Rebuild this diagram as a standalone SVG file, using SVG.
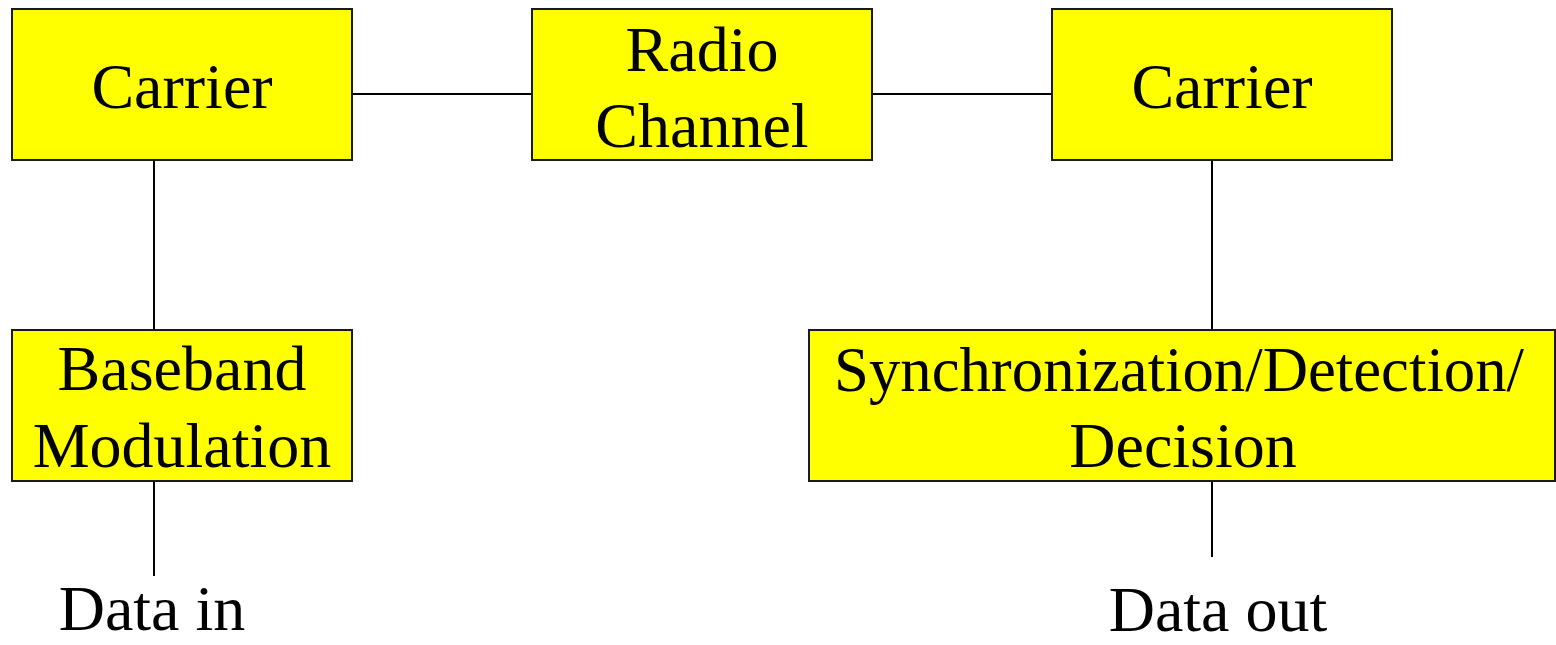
<svg xmlns="http://www.w3.org/2000/svg" width="1556" height="645" viewBox="0 0 1556 645">
  <style>
    .box { fill: #ffff00; stroke: #1a1a1a; stroke-width: 2; }
    .wire { stroke: #000; stroke-width: 2; fill: none; }
    text { font-family: "Liberation Serif", "Times New Roman", serif; font-size: 64px; fill: #000; text-anchor: middle; }
  </style>
  <rect width="1556" height="645" fill="#fff"/>

  <!-- connectors -->
  <g id="connectors">
    <line class="wire" x1="352" y1="94" x2="532" y2="94"/>
    <line class="wire" x1="872" y1="94" x2="1052" y2="94"/>
    <line class="wire" x1="154" y1="160" x2="154" y2="330"/>
    <line class="wire" x1="154" y1="481" x2="154" y2="576"/>
    <line class="wire" x1="1212" y1="160" x2="1212" y2="330"/>
    <line class="wire" x1="1212" y1="481" x2="1212" y2="557"/>
  </g>

  <g id="carrier-tx">
    <rect class="box" x="12" y="9" width="340" height="151"/>
    <text x="182" y="108">Carrier</text>
  </g>

  <g id="radio-channel">
    <rect class="box" x="532" y="9" width="340" height="151"/>
    <text x="702" y="71">Radio</text>
    <text x="702" y="147">Channel</text>
  </g>

  <g id="carrier-rx">
    <rect class="box" x="1052" y="9" width="340" height="151"/>
    <text x="1222" y="108">Carrier</text>
  </g>

  <g id="baseband-modulation">
    <rect class="box" x="12" y="330" width="340" height="151"/>
    <text x="182" y="390">Baseband</text>
    <text x="182" y="467">Modulation</text>
  </g>

  <g id="sync-detection-decision">
    <rect class="box" x="809" y="330" width="746" height="151"/>
    <text x="1179" y="391" textLength="690" lengthAdjust="spacingAndGlyphs">Synchronization/Detection/</text>
    <text x="1183" y="467">Decision</text>
  </g>

  <g id="data-in">
    <text x="152" y="630">Data in</text>
  </g>

  <g id="data-out">
    <text x="1218" y="631">Data out</text>
  </g>
</svg>
